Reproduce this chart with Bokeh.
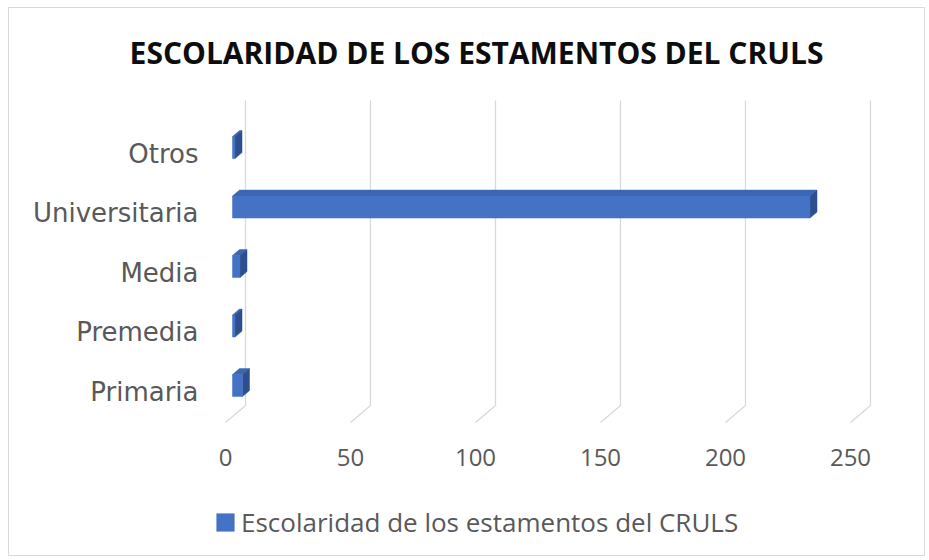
from bokeh.plotting import figure
from bokeh.models import FixedTicker, Legend, LegendItem, Range1d, Label
from bokeh.embed import file_html
from bokeh.resources import INLINE

# ---- data ----
categories = ["Primaria", "Premedia", "Media", "Universitaria", "Otros"]
values = [4, 1, 3, 231, 1]
x_ticks = [0, 50, 100, 150, 200, 250]
series_name = "Escolaridad de los estamentos del CRULS"
title_text = "ESCOLARIDAD DE LOS ESTAMENTOS DEL CRULS"

# ---- 3D geometry (data units) ----
DX, DY = 8.0, 0.2857        # depth vector of the wall
f0, f1 = 0.35, 0.70         # bar depth span (fraction of wall depth)
H = 0.185                   # half height of bar front face
front_floor = -0.521
back_floor = front_floor + DY
wall_top = 4.89
cat_axis_x = -4.0           # where the category axis sits

FONT = "Open Sans"
TXT = "#595959"
GRID = "#d9d9d9"
C_FRONT = "#4472C4"
C_TOP = "#3C66B4"
C_SIDE = "#2D4F8E"

# frame covers the whole chart area; its outline is the chart border
p = figure(width=929, height=560, output_backend="svg", toolbar_location=None,
           x_range=Range1d(-86.8, 279.6), y_range=Range1d(-2.756, 6.454),
           min_border_left=8, min_border_right=5, min_border_top=7, min_border_bottom=5)
p.outline_line_color = "#d9d9d9"
p.outline_line_width = 1
p.grid.visible = False
p.background_fill_color = "white"
p.border_fill_color = "white"

# title
p.add_layout(Label(x=100.4, y=5.697, text=title_text, text_align="center", text_baseline="middle",
                   text_font=FONT, text_font_style="bold", text_font_size="30px", text_color="#0d0d0d"))

# axes (fixed inside the frame)
p.xaxis.ticker = FixedTicker(ticks=x_ticks)
p.xaxis.fixed_location = front_floor
p.yaxis.ticker = FixedTicker(ticks=list(range(len(categories))))
p.yaxis.fixed_location = cat_axis_x
p.yaxis.major_label_overrides = {i: c for i, c in enumerate(categories)}
for ax in (p.xaxis[0], p.yaxis[0]):
    ax.axis_line_color = None
    ax.major_tick_line_color = None
    ax.minor_tick_line_color = None
    ax.major_label_text_color = TXT
p.xaxis.major_label_text_font = FONT
p.xaxis.major_label_text_font_size = "24px"
p.yaxis.major_label_text_font = "DejaVu Sans"
p.yaxis.major_label_text_font_size = "26px"
p.xaxis.major_label_standoff = 20
p.yaxis.major_label_standoff = 11

# back-wall gridlines and floor slants
gx_back = [v + DX for v in x_ticks]
n = len(x_ticks)
p.segment(x0=gx_back, y0=[back_floor] * n, x1=gx_back, y1=[wall_top] * n, line_color=GRID, line_width=1.3)
p.segment(x0=gx_back, y0=[back_floor] * n, x1=x_ticks, y1=[front_floor] * n, line_color=GRID, line_width=1.3)

# bars
dd = f1 - f0
lefts, rights, bottoms, tops = [], [], [], []
top_xs, top_ys, side_xs, side_ys = [], [], [], []
for i, v in enumerate(values):
    x0 = f0 * DX
    x1 = v + f0 * DX
    yc = i + f0 * DY
    yb, yt = yc - H, yc + H
    lefts.append(x0); rights.append(x1); bottoms.append(yb); tops.append(yt)
    top_xs.append([x0, x1, x1 + dd * DX, x0 + dd * DX])
    top_ys.append([yt, yt, yt + dd * DY, yt + dd * DY])
    side_xs.append([x1, x1, x1 + dd * DX, x1 + dd * DX])
    side_ys.append([yb, yt, yt + dd * DY, yb + dd * DY])

p.patches(xs=top_xs, ys=top_ys, fill_color=C_TOP, line_color=C_TOP, line_width=0.5)
p.patches(xs=side_xs, ys=side_ys, fill_color=C_SIDE, line_color=C_SIDE, line_width=0.5)
front = p.quad(left=lefts, right=rights, bottom=bottoms, top=tops,
               fill_color=C_FRONT, line_color=C_FRONT, line_width=0.5)

legend = Legend(items=[LegendItem(label=series_name, renderers=[front])],
                location=(206, 15), orientation="horizontal",
                border_line_color=None, background_fill_alpha=0,
                label_text_font=FONT, label_text_font_size="26px", label_text_color=TXT,
                glyph_width=22, glyph_height=22, label_standoff=5, padding=0, margin=0)
p.add_layout(legend, "center")

open("out.html", "w").write(file_html(p, INLINE))
